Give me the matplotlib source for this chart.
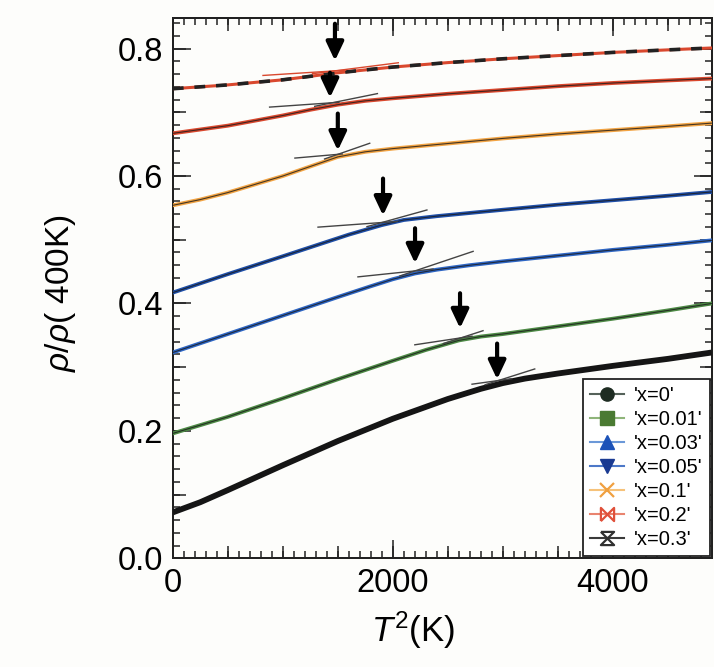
import numpy as np
import matplotlib
matplotlib.use("Agg")
import matplotlib.pyplot as plt
from matplotlib.lines import Line2D
from matplotlib.path import Path
from matplotlib.ticker import MultipleLocator, FuncFormatter

plt.rcParams['font.family'] = ['Liberation Sans', 'DejaVu Sans']
plt.rcParams['mathtext.fontset'] = 'custom'
plt.rcParams['mathtext.rm'] = 'Liberation Sans'
plt.rcParams['mathtext.it'] = 'Liberation Sans:italic'

# ---- data: rho/rho(400K) vs T^2 ----
labels = ["'x=0'", "'x=0.01'", "'x=0.03'", "'x=0.05'", "'x=0.1'", "'x=0.2'", "'x=0.3'"]

t2_x0 = [0, 250, 500, 1000, 1500, 2000, 2500, 2800, 3000, 3200, 3500, 4000, 4500, 4900]
r_x0 = [0.072, 0.088, 0.107, 0.146, 0.184, 0.219, 0.250, 0.266, 0.275, 0.282, 0.290, 0.302, 0.313, 0.323]

t2_x001 = [0, 500, 1000, 1500, 2000, 2300, 2600, 2800, 3000, 3500, 4000, 4500, 4900]
r_x001 = [0.196, 0.222, 0.251, 0.281, 0.310, 0.327, 0.342, 0.348, 0.352, 0.364, 0.376, 0.389, 0.400]

t2_x003 = [0, 500, 1000, 1500, 1800, 2000, 2200, 2400, 2700, 3000, 3500, 4000, 4500, 4900]
r_x003 = [0.323, 0.352, 0.381, 0.410, 0.427, 0.438, 0.447, 0.453, 0.460, 0.466, 0.475, 0.484, 0.492, 0.499]

t2_x005 = [0, 500, 1000, 1300, 1600, 1900, 2100, 2400, 3000, 3500, 4000, 4500, 4900]
r_x005 = [0.417, 0.446, 0.474, 0.491, 0.508, 0.523, 0.531, 0.537, 0.547, 0.555, 0.562, 0.569, 0.575]

t2_x01 = [0, 250, 500, 1000, 1250, 1500, 1750, 2000, 2500, 3000, 3500, 4000, 4500, 4900]
r_x01 = [0.554, 0.563, 0.574, 0.600, 0.615, 0.630, 0.638, 0.643, 0.651, 0.659, 0.666, 0.672, 0.678, 0.683]

t2_x02 = [0, 500, 1000, 1250, 1500, 1750, 2000, 2500, 3000, 3500, 4000, 4500, 4900]
r_x02 = [0.667, 0.679, 0.695, 0.704, 0.712, 0.718, 0.722, 0.729, 0.735, 0.741, 0.746, 0.750, 0.753]

t2_x03 = [0, 500, 1000, 1500, 2000, 2500, 3000, 3500, 4000, 4500, 4900]
r_x03 = [0.737, 0.743, 0.751, 0.762, 0.771, 0.778, 0.784, 0.789, 0.794, 0.798, 0.801]

# kink (tangent crossing) for each curve, same order as labels
knee_t2 = [2960, 2620, 2200, 1900, 1500, 1450, 1470]
knee_r = [0.279, 0.346, 0.451, 0.527, 0.634, 0.715, 0.765]
slope_lo = [0.055, 0.056, 0.058, 0.048, 0.060, 0.035, 0.022]   # per 1000 K^2
slope_hi = [0.024, 0.026, 0.018, 0.0125, 0.015, 0.012, 0.011]
flat_from = [-240, -420, -517, -580, -390, -570, -650]
flat_to = [120, 100, 166, 140, 40, 60, 100]
steep_from = [-120, -160, -135, -135, -120, -160, -200]
steep_to = [330, 200, 530, 410, 290, 410, 580]

# arrows
arrow_t2 = [2948, 2611, 2202, 1911, 1500, 1429, 1474]
arrow_tail = [0.337, 0.416, 0.518, 0.596, 0.698, 0.762, 0.839]
arrow_tip = [0.281, 0.361, 0.463, 0.538, 0.640, 0.723, 0.781]

fig = plt.figure(figsize=(7.14, 6.67), dpi=100)
fig.patch.set_facecolor('#fdfdfb')
ax = fig.add_axes([0.242, 0.163, 0.755, 0.810])
ax.set_facecolor('#fdfdfb')

curves = [(t2_x0, r_x0), (t2_x001, r_x001), (t2_x003, r_x003), (t2_x005, r_x005),
          (t2_x01, r_x01), (t2_x02, r_x02), (t2_x03, r_x03)]
data_col = ['#1c1c1c', '#4d8a45', '#2e66c4', '#1f4fa8', '#f2a444', '#d9482e', '#d9482e']

for i, (xx, yy) in enumerate(curves):
    if i == 0:
        ax.plot(xx, yy, color='#151515', lw=4.2, solid_capstyle='butt', zorder=3)
    elif i == 6:
        ax.plot(xx, yy, color=data_col[i], lw=2.2, zorder=3)
        ax.plot(xx, yy, color='#222222', lw=2.6, dashes=(3, 3), zorder=4)
    else:
        ax.plot(xx, yy, color=data_col[i], lw=2.8, zorder=3)
        ax.plot(xx, yy, color='#1a1a1a', lw=0.8, alpha=0.8, zorder=4)

# tangent lines at the kink
for i in range(len(knee_t2)):
    tc = '#d9482e' if i == 6 else '#444444'
    xf = np.array([knee_t2[i] + flat_from[i], knee_t2[i] + flat_to[i]])
    ax.plot(xf, knee_r[i] + slope_hi[i] * (xf - knee_t2[i]) / 1000, color=tc, lw=1.0, zorder=5)
    xs = np.array([knee_t2[i] + steep_from[i], knee_t2[i] + steep_to[i]])
    ax.plot(xs, knee_r[i] + slope_lo[i] * (xs - knee_t2[i]) / 1000, color=tc, lw=1.0, zorder=5)

for i in range(len(arrow_t2)):
    ax.annotate('', xy=(arrow_t2[i], arrow_tip[i]), xytext=(arrow_t2[i], arrow_tail[i]),
                arrowprops=dict(arrowstyle='-|>,head_length=0.7,head_width=0.33',
                                color='black', lw=3, mutation_scale=16,
                                shrinkA=0, shrinkB=0), zorder=6)

ax.set_xlim(0, 4900)
ax.set_ylim(0, 0.848)

# ticks
ax.xaxis.set_major_locator(MultipleLocator(2000))
ax.xaxis.set_minor_locator(MultipleLocator(100))
ax.yaxis.set_major_locator(MultipleLocator(0.2))
ax.yaxis.set_minor_locator(MultipleLocator(0.02))
ax.yaxis.set_major_formatter(FuncFormatter(lambda v, p: f"{v:.1f}"))
ax.tick_params(which='both', direction='in', top=True, right=True, width=1.1, color='#222222')
ax.tick_params(which='major', length=13, labelsize=23.5, pad=7)
ax.tick_params(which='minor', length=5)

# medium ticks every 500 K^2 and 0.1
for loc in ['bottom', 'top']:
    sx = ax.secondary_xaxis(loc)
    sx.xaxis.set_major_locator(MultipleLocator(500))
    sx.tick_params(direction='in', length=9, width=1.1, labelbottom=False, labeltop=False, color='#222222')
    sx.spines[loc].set_linewidth(1.3)
for loc in ['left', 'right']:
    sy = ax.secondary_yaxis(loc)
    sy.yaxis.set_major_locator(MultipleLocator(0.1))
    sy.tick_params(direction='in', length=9, width=1.1, labelleft=False, labelright=False, color='#222222')
    sy.spines[loc].set_linewidth(1.3)

for s in ax.spines.values():
    s.set_linewidth(1.3)
    s.set_color('#222222')

ax.set_xlabel(r'$T^2$(K)', fontsize=25)
ax.xaxis.set_label_coords(0.445, -0.095)
ax.set_ylabel(r'$\rho$/$\rho$( 400K)', fontsize=24)
ax.yaxis.set_label_coords(-0.176, 0.49)

# legend handles
bowtie = Path([(-1, -1), (-1, 1), (1, -1), (1, 1), (-1, -1)])
hourglass = Path([(-1, 1), (1, 1), (-1, -1), (1, -1), (-1, 1)])
leg_line = ['#55625a', '#8fb57a', '#6b98d8', '#4d78c8', '#f6c27a', '#e9846f', '#3a3a3a']
leg_mk = ['o', 's', '^', 'v', 'x', bowtie, hourglass]
leg_mc = ['#1e2c22', '#4a7a32', '#1c52b8', '#1a3a92', '#f0a040', '#e0503a', '#303030']
handles = []
for i in range(7):
    filled = i < 4
    handles.append(Line2D([], [], color=leg_line[i], lw=1.5, marker=leg_mk[i], markersize=9.5,
                          markerfacecolor=leg_mc[i] if filled else 'none',
                          markeredgecolor=leg_mc[i], markeredgewidth=1.6 if not filled else 1))
leg = ax.legend(handles, labels, loc='lower right', fontsize=14.5, frameon=True, fancybox=False,
                framealpha=1, edgecolor='#222222', borderaxespad=0.1, labelspacing=0.25,
                handlelength=1.7, handletextpad=0.5, borderpad=0.35)
leg.get_frame().set_linewidth(1.3)
leg.set_zorder(10)

fig.savefig('out.png', dpi=100, facecolor=fig.get_facecolor())
